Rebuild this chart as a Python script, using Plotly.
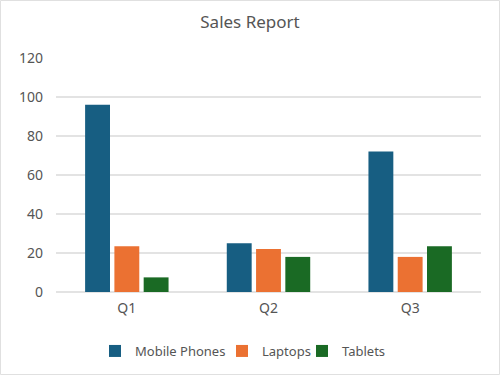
import plotly.graph_objects as go

quarters = ["Q1", "Q2", "Q3"]
mobile_phones = [96, 25, 72]
laptops = [23.5, 22, 18]
tablets = [7.5, 18, 23.5]
series_names = ["Mobile Phones", "Laptops", "Tablets"]
colors = ["#175e82", "#eb7132", "#1a6a24"]
y_ticks = [0, 20, 40, 60, 80, 100, 120]

W, H = 500, 375
L, R, T, B = 56, 19, 58, 83
PW, PH = W - L - R, H - T - B

font_family = "Noto Sans, Open Sans, sans-serif"
text_color = "#555555"

legend_names = ["legend", "legend2", "legend3"]
legend_x = [95, 222, 302]  # left edge of each legend item, px

fig = go.Figure()
for name, vals, col, lg in zip(series_names, [mobile_phones, laptops, tablets], colors, legend_names):
    fig.add_trace(go.Bar(name=name, x=quarters, y=vals, legend=lg, showlegend=True,
                         marker=dict(color=col, line=dict(width=0))))

legend_common = dict(orientation="h", xref="container", xanchor="left",
                     yref="container", y=1 - 351 / H, yanchor="middle",
                     font=dict(size=13, color=text_color), bgcolor="rgba(0,0,0,0)")

fig.update_layout(
    width=W, height=H,
    showlegend=True,
    margin=dict(l=L, r=R, t=T, b=B, pad=0),
    paper_bgcolor="white", plot_bgcolor="white",
    barmode="group", bargap=0.38, bargroupgap=0.15,
    font=dict(family=font_family, size=14, color=text_color),
    title=dict(text="Sales Report", x=0.5, xref="container", y=1 - 22 / H, yref="container",
               xanchor="center", yanchor="middle", font=dict(size=17, color=text_color)),
    legend=dict(x=legend_x[0] / W, visible=True, **legend_common),
    legend2=dict(x=legend_x[1] / W, visible=True, **legend_common),
    legend3=dict(x=legend_x[2] / W, visible=True, **legend_common),
    xaxis=dict(showgrid=False, showline=False, zeroline=False, ticks="", ticklabelstandoff=6,
               tickfont=dict(size=14, color=text_color)),
    yaxis=dict(range=[0, 120], tickvals=y_ticks, showgrid=True, gridcolor="#e3e3e3", gridwidth=2,
               zeroline=True, zerolinecolor="#e3e3e3", zerolinewidth=2, showline=False, ticks="",
               ticklabelstandoff=12, tickfont=dict(size=14, color=text_color)),
    shapes=[dict(type="rect", xref="paper", yref="paper",
                 x0=(0.5 - L) / PW, x1=(W - 0.5 - L) / PW,
                 y0=(T + PH - (H - 0.5)) / PH, y1=(T + PH - 0.5) / PH,
                 line=dict(color="#e0e0e0", width=1), fillcolor="rgba(0,0,0,0)", layer="below")],
)

fig.write_html("out.html", config={"displayModeBar": False},
               post_script="document.body.style.margin='0';document.body.style.padding='0';")
